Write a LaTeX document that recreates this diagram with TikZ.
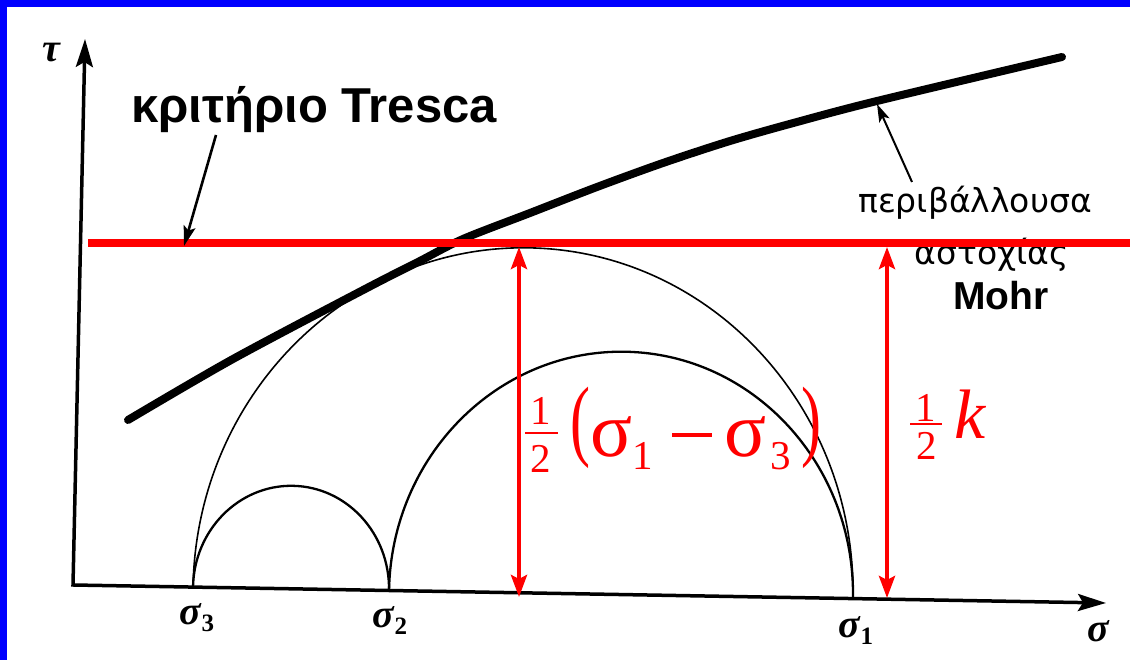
\documentclass[tikz,border=0pt]{standalone}
\usepackage{fontspec}
\setmainfont{Liberation Serif}
\newfontfamily\lsans{Liberation Sans}
\newfontface\dsans{DejaVu Sans}
\usetikzlibrary{arrows.meta}
\newcommand{\axsub}[1]{\raisebox{-7pt}{\fontsize{25}{25}\selectfont\bfseries\upshape #1}}
\begin{document}
\begin{tikzpicture}[x=1pt,y=1pt,
  axisline/.style={line width=3.5pt, line join=miter, {Stealth[length=28pt,width=17pt,inset=5pt]}-{Stealth[length=28pt,width=17pt,inset=5pt]}},
  thinarc/.style={line width=1.6pt},
  mohrarc/.style={line width=2.3pt},
  envelope/.style={line width=8pt, line cap=round, line join=round},
  redline/.style={draw=red, line width=8.5pt},
  dimarrow/.style={draw=red, line width=4pt, {Stealth[length=22pt,width=16pt,inset=4pt]}-{Stealth[length=22pt,width=16pt,inset=4pt]}},
  pointer/.style={line width=2.6pt, -{Stealth[length=20pt,width=12pt,inset=4pt]}},
  thinpointer/.style={line width=2pt, -{Stealth[length=18pt,width=11pt,inset=4pt]}},
  axlabel/.style={font=\fontsize{40}{40}\selectfont\bfseries\itshape, inner sep=0pt},
  bigsans/.style={font=\lsans\bfseries\fontsize{49}{49}\selectfont, inner sep=0pt},
  midsans/.style={font=\dsans\fontsize{33}{33}\selectfont, inner sep=0pt},
  boldsans/.style={font=\lsans\bfseries\fontsize{39}{39}\selectfont, inner sep=0pt},
  redtxt/.style={text=red, inner sep=0pt},
  fracdig/.style={redtxt, font=\fontsize{41}{41}\selectfont},
  greek/.style={redtxt, font=\fontsize{78}{78}\selectfont},
  subdig/.style={redtxt, font=\fontsize{41}{41}\selectfont},
  paren/.style={redtxt, font=\fontsize{60}{60}\selectfont, yscale=1.5},
]
\useasboundingbox (0,0) rectangle (1130,660);
% frame
\fill[blue] (0,653) rectangle (1130,660);
\fill[blue] (0,0) rectangle (7,660);

% Mohr circles
\draw[thinarc, rotate around={-1:(523,67.2)}] (193,67.2) arc[start angle=180, end angle=0, x radius=330, y radius=345];
\draw[mohrarc, rotate around={-1:(621,65.3)}] (389,65.3) arc[start angle=180, end angle=0, x radius=232, y radius=243];
\draw[mohrarc, rotate around={-1:(291,71.2)}] (193,71.2) arc[start angle=180, end angle=0, x radius=98, y radius=103];

% envelope
\draw[envelope] plot[smooth, tension=0.5] coordinates {(128,240) (233,301) (367,372) (418,398) (463,421) (530,447) (597,473) (663,497) (730,519) (797,538) (877,559) (1062,603)};

% axes
\coordinate (O) at (73,75);
\coordinate (tauend) at (85,621);
\coordinate (sigend) at (1106,57);
\draw[axisline] (tauend) -- (O) -- (sigend);

\node[axlabel] (tau) at (51,607) {τ};
\node[axlabel] (sig) at (1098,29) {σ};
\node[axlabel] (sig3) at (197,42) {σ\axsub{3}};
\node[axlabel] (sig2) at (390,40) {σ\axsub{2}};
\node[axlabel] (sig1) at (856,30) {σ\axsub{1}};

% black texts
\node[bigsans, anchor=base] (tresca) at (314,537) {κριτήριο Tresca};
\node[midsans, anchor=base] (periv) at (975,447) {περιβάλλουσα};
\node[midsans, anchor=base] (astox) at (992,395) {αστοχίας};
\node[boldsans, anchor=base] (mohr) at (1001,350) {Mohr};

% Tresca line
\coordinate (tl) at (88,417);
\coordinate (tr) at (1130,417);
\draw[redline] (tl) -- (tr);

% dimension arrows
\coordinate (a1b) at (519,63);
\coordinate (a1t) at (519,413);
\coordinate (a2b) at (887,62);
\coordinate (a2t) at (887,413);
\draw[dimarrow] (a1b) -- (a1t);
\draw[dimarrow] (a2b) -- (a2t);

% formula 1/2 (s1 - s3)
\node[fracdig] (n1) at (541,249) {1};
\draw[red, line width=2.5pt] (525,227) -- (558,227);
\node[fracdig] (d1) at (541,201) {2};
\node[paren] (lp) at (580,232) {(};
\node[greek] (s1) at (612,223) {σ};
\node[subdig] (i1) at (643,204) {1};
\coordinate (m1) at (672,225);
\coordinate (m2) at (712,225);
\draw[red, line width=3.5pt] (m1) -- (m2);
\node[greek] (s3) at (746,223) {σ};
\node[subdig] (i3) at (781,204) {3};
\node[paren] (rp) at (811,232) {)};

% formula 1/2 k
\node[fracdig] (n2) at (926,252) {1};
\draw[red, line width=2.5pt] (910,236) -- (942,236);
\node[fracdig] (d2) at (927,214) {2};
\node[redtxt, font=\fontsize{70}{70}\selectfont\itshape] (kk) at (970,246) {k};

% pointers
\coordinate (ttail) at (216,525);
\coordinate (ttip) at (184,414);
\draw[pointer] (ttail) -- (ttip);
\coordinate (ptail) at (912,478);
\coordinate (ptip) at (877,556);
\draw[thinpointer] (ptail) -- (ptip);
\end{tikzpicture}
\end{document}
